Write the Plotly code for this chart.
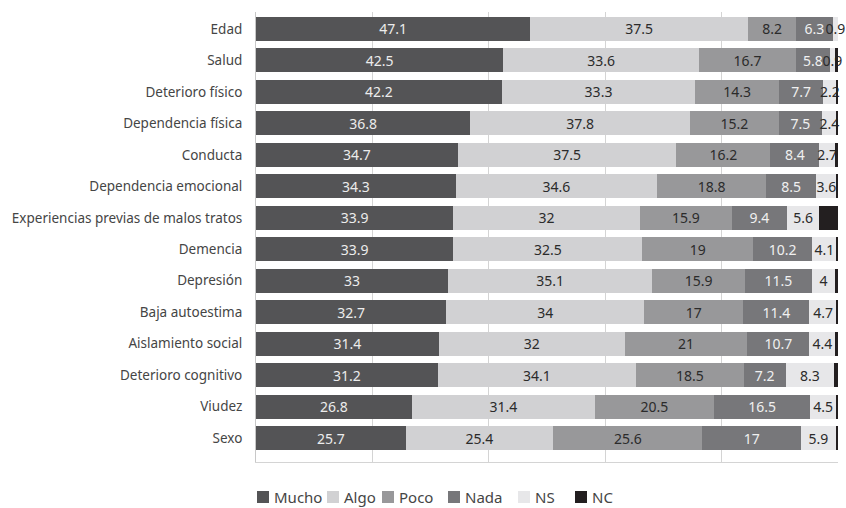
import plotly.graph_objects as go

# Factors and share of answers (%) per response level
factores = [
    "Edad", "Salud", "Deterioro físico", "Dependencia física", "Conducta",
    "Dependencia emocional", "Experiencias previas de malos tratos", "Demencia",
    "Depresión", "Baja autoestima", "Aislamiento social", "Deterioro cognitivo",
    "Viudez", "Sexo",
]
mucho = [47.1, 42.5, 42.2, 36.8, 34.7, 34.3, 33.9, 33.9, 33, 32.7, 31.4, 31.2, 26.8, 25.7]
algo = [37.5, 33.6, 33.3, 37.8, 37.5, 34.6, 32, 32.5, 35.1, 34, 32, 34.1, 31.4, 25.4]
poco = [8.2, 16.7, 14.3, 15.2, 16.2, 18.8, 15.9, 19, 15.9, 17, 21, 18.5, 20.5, 25.6]
nada = [6.3, 5.8, 7.7, 7.5, 8.4, 8.5, 9.4, 10.2, 11.5, 11.4, 10.7, 7.2, 16.5, 17]
ns = [0.9, 0.9, 2.2, 2.4, 2.7, 3.6, 5.6, 4.1, 4, 4.7, 4.4, 8.3, 4.5, 5.9]
nc = [0.3, 0.5, 0.3, 0.3, 0.5, 0.2, 3.2, 0.3, 0.5, 0.2, 0.5, 0.7, 0.3, 0.4]

FONT = "Noto Sans"
TXT = "#454545"

series = [
    ("Mucho", mucho, "#545456", "#ececec", True),
    ("Algo", algo, "#d1d1d3", "#2b2b2b", True),
    ("Poco", poco, "#98989a", "#2b2b2b", True),
    ("Nada", nada, "#77777a", "#f0f0f0", True),
    ("NS", ns, "#e7e7e9", "#2b2b2b", True),
    ("NC", nc, "#231f20", "#ffffff", False),
]

fig = go.Figure()
for name, vals, color, tcolor, labelled in series:
    fig.add_trace(go.Bar(
        name=name,
        y=factores,
        x=vals,
        orientation="h",
        marker=dict(color=color, line=dict(width=0)),
        text=[f"{v:g}" for v in vals] if labelled else None,
        textposition="inside" if labelled else "none",
        insidetextanchor="middle",
        textangle=0,
        constraintext="none",
        cliponaxis=False,
        textfont=dict(color=tcolor, size=14, family=FONT),
        hoverinfo="skip",
        showlegend=False,
    ))

# Legend row below the plot: colour square followed by the level name
L, R, T, B = 256, 8, 12, 46
W, H = 846 - L - R, 508 - T - B
legend_left = [257, 327, 382, 448, 518, 575]  # pixel x of each square
legend_mid_y = 497
sq = 12
for (name, _, color, _, _), px in zip(series, legend_left):
    x0 = (px - L) / W
    x1 = (px + sq - L) / W
    y0 = (T + H - (legend_mid_y + sq / 2)) / H
    y1 = (T + H - (legend_mid_y - sq / 2)) / H
    fig.add_shape(type="rect", xref="paper", yref="paper",
                  x0=x0, x1=x1, y0=y0, y1=y1,
                  fillcolor=color, line=dict(width=0))
    fig.add_annotation(xref="paper", yref="paper", x=(px + sq + 3 - L) / W,
                       y=(T + H - legend_mid_y) / H, xanchor="left", yanchor="middle",
                       text=name, showarrow=False,
                       font=dict(family=FONT, size=15, color=TXT))

fig.update_layout(
    barmode="stack",
    bargap=0.237,
    width=846,
    height=508,
    margin=dict(l=L, r=R, t=T, b=B, autoexpand=False),
    paper_bgcolor="white",
    plot_bgcolor="white",
    font=dict(family=FONT, color=TXT, size=13),
    showlegend=False,
)
fig.update_xaxes(
    range=[0, 100],
    dtick=20,
    showticklabels=False,
    showgrid=True,
    gridcolor="#d4d4d4",
    gridwidth=1,
    zeroline=False,
    showline=True,
    linecolor="#d4d4d4",
    linewidth=1,
    ticks="",
    automargin=False,
)
fig.update_yaxes(
    categoryorder="array",
    categoryarray=factores[::-1],
    range=[-0.76, 13.54],
    showline=True,
    linecolor="#c8c8c8",
    linewidth=1,
    ticks="",
    ticklabelstandoff=10,
    automargin=False,
    tickfont=dict(size=13.5, color=TXT, family=FONT),
)

fig.write_html("out.html")
